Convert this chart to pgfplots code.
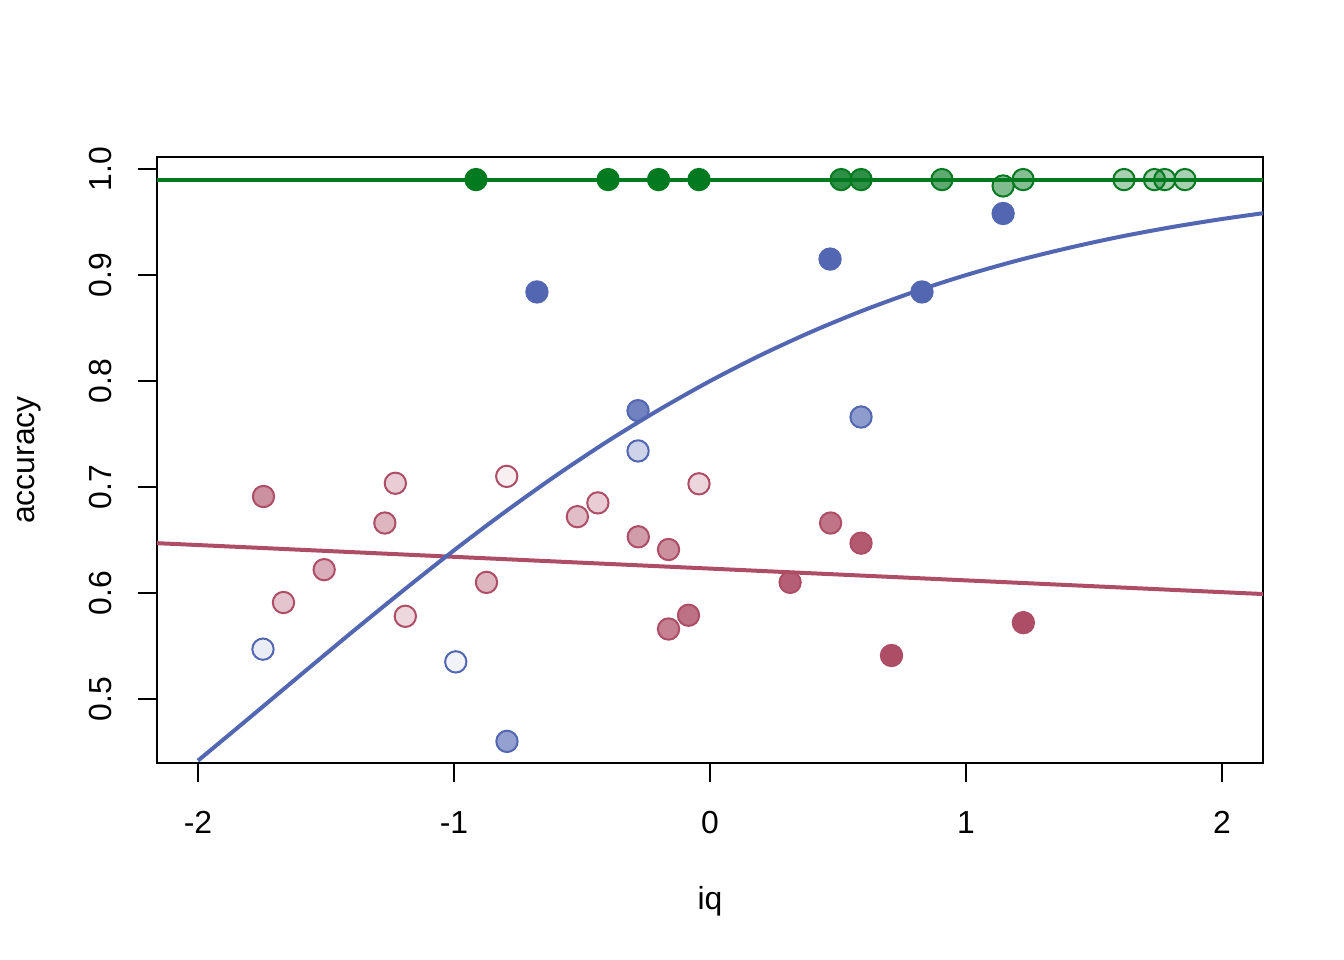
\documentclass[border=0pt]{standalone}
\usepackage{fontspec}
\setmainfont{Liberation Sans}
\usepackage{pgfplots}
\pgfplotsset{compat=1.18}
\usepackage{pgfplotstable}
\definecolor{cblue}{RGB}{82,102,178}
\definecolor{cred}{RGB}{173,77,102}
\definecolor{cgreen}{RGB}{4,122,32}

\pgfplotstableread{
x y a
-0.914 0.990 1
-0.398 0.990 1
-0.201 0.990 1
-0.043 0.990 1
0.512 0.990 0.83
0.590 0.990 0.83
0.906 0.990 0.64
1.223 0.990 0.49
1.145 0.984 0.50
1.617 0.990 0.35
1.736 0.990 0.35
1.776 0.990 0.35
1.855 0.990 0.35
}\greenpts

\pgfplotstableread{
x y a
-0.676 0.884 1
0.469 0.915 1
1.145 0.958 1
0.828 0.884 1
-0.281 0.772 0.82
-0.281 0.734 0.29
0.590 0.766 0.65
-1.746 0.547 0.12
-0.993 0.535 0.08
-0.793 0.460 0.62
}\bluepts

\pgfplotstableread{
x y a
-1.744 0.691 0.62
-1.229 0.7035 0.28
-1.270 0.666 0.41
-1.507 0.622 0.46
-1.666 0.591 0.33
-1.190 0.578 0.22
-0.794 0.710 0.09
-0.873 0.610 0.41
-0.518 0.672 0.37
-0.438 0.685 0.28
-0.280 0.653 0.55
-0.162 0.641 0.63
-0.162 0.566 0.71
-0.084 0.579 0.80
-0.043 0.703 0.23
0.471 0.666 0.78
0.590 0.647 0.93
0.313 0.610 0.90
0.709 0.541 1
1.224 0.572 1
}\redpts

\pgfplotstableread{
x y
-2.0 0.4418
-1.8 0.4820
-1.6 0.5225
-1.4 0.5627
-1.2 0.6020
-1.0 0.6402
-0.8 0.6766
-0.6 0.7110
-0.4 0.7431
-0.2 0.7727
0.0 0.7999
0.2 0.8246
0.4 0.8468
0.6 0.8667
0.8 0.8843
1.0 0.8999
1.2 0.9136
1.4 0.9255
1.6 0.9360
1.8 0.9450
2.0 0.9528
2.2 0.9596
}\bluecurve

\pgfplotsset{
  alphapts/.style={scatter, only marks, mark=*, mark size=4.0bp,
    visualization depends on={\thisrow{a} \as \ptalpha},
    scatter/use mapped color={draw=#1, fill=#1},
    scatter/@pre marker code/.append code={\pgfsetfillopacity{\ptalpha}},
    mark options={line width=0.75bp}},
}

\begin{document}
\begin{tikzpicture}
\useasboundingbox (-58.875bp,-73.875bp) rectangle (445.125bp,286.125bp);
\begin{axis}[
  at={(0,0)}, anchor=south west,
  scale only axis, width=414.75bp, height=227.25bp,
  xmin=-2.16, xmax=2.16, ymin=0.4396, ymax=1.0113,
  axis line style={line width=0.75bp, black},
  xtick={-2,-1,0,1,2}, xticklabels={-2,-1,0,1,2},
  ytick={0.5,0.6,0.7,0.8,0.9,1.0}, yticklabels={0.5,0.6,0.7,0.8,0.9,1.0},
  xtick pos=lower, ytick pos=left,
  tick align=outside, major tick length=7.2bp,
  tick style={line width=0.75bp, black},
  xticklabel style={anchor=base, yshift=-19.4bp, font=\fontsize{12}{14}\selectfont},
  yticklabel style={xshift=-9.7bp, rotate=90, anchor=base, font=\fontsize{12}{14}\selectfont},
  every axis x label/.style={at={(axis description cs:0.5,0)}, yshift=-54.75bp, anchor=base, font=\fontsize{12}{14}\selectfont},
  every axis y label/.style={at={(axis description cs:0,0.5)}, xshift=-45.75bp, rotate=90, anchor=base, font=\fontsize{12}{14}\selectfont},
  xlabel={iq}, ylabel={accuracy},
]
\addplot[cgreen, line width=1.5bp, no marks] coordinates {(-2.16,0.99) (2.16,0.99)};
\addplot[cred, line width=1.5bp, no marks] coordinates {(-2.16,0.647) (2.16,0.599)};
\addplot[cblue, line width=1.5bp, no marks, smooth] table {\bluecurve};

\addplot[alphapts=cred] table {\redpts};
\addplot[alphapts=cblue] table {\bluepts};
\addplot[alphapts=cgreen] table {\greenpts};
\end{axis}
\end{tikzpicture}
\end{document}
